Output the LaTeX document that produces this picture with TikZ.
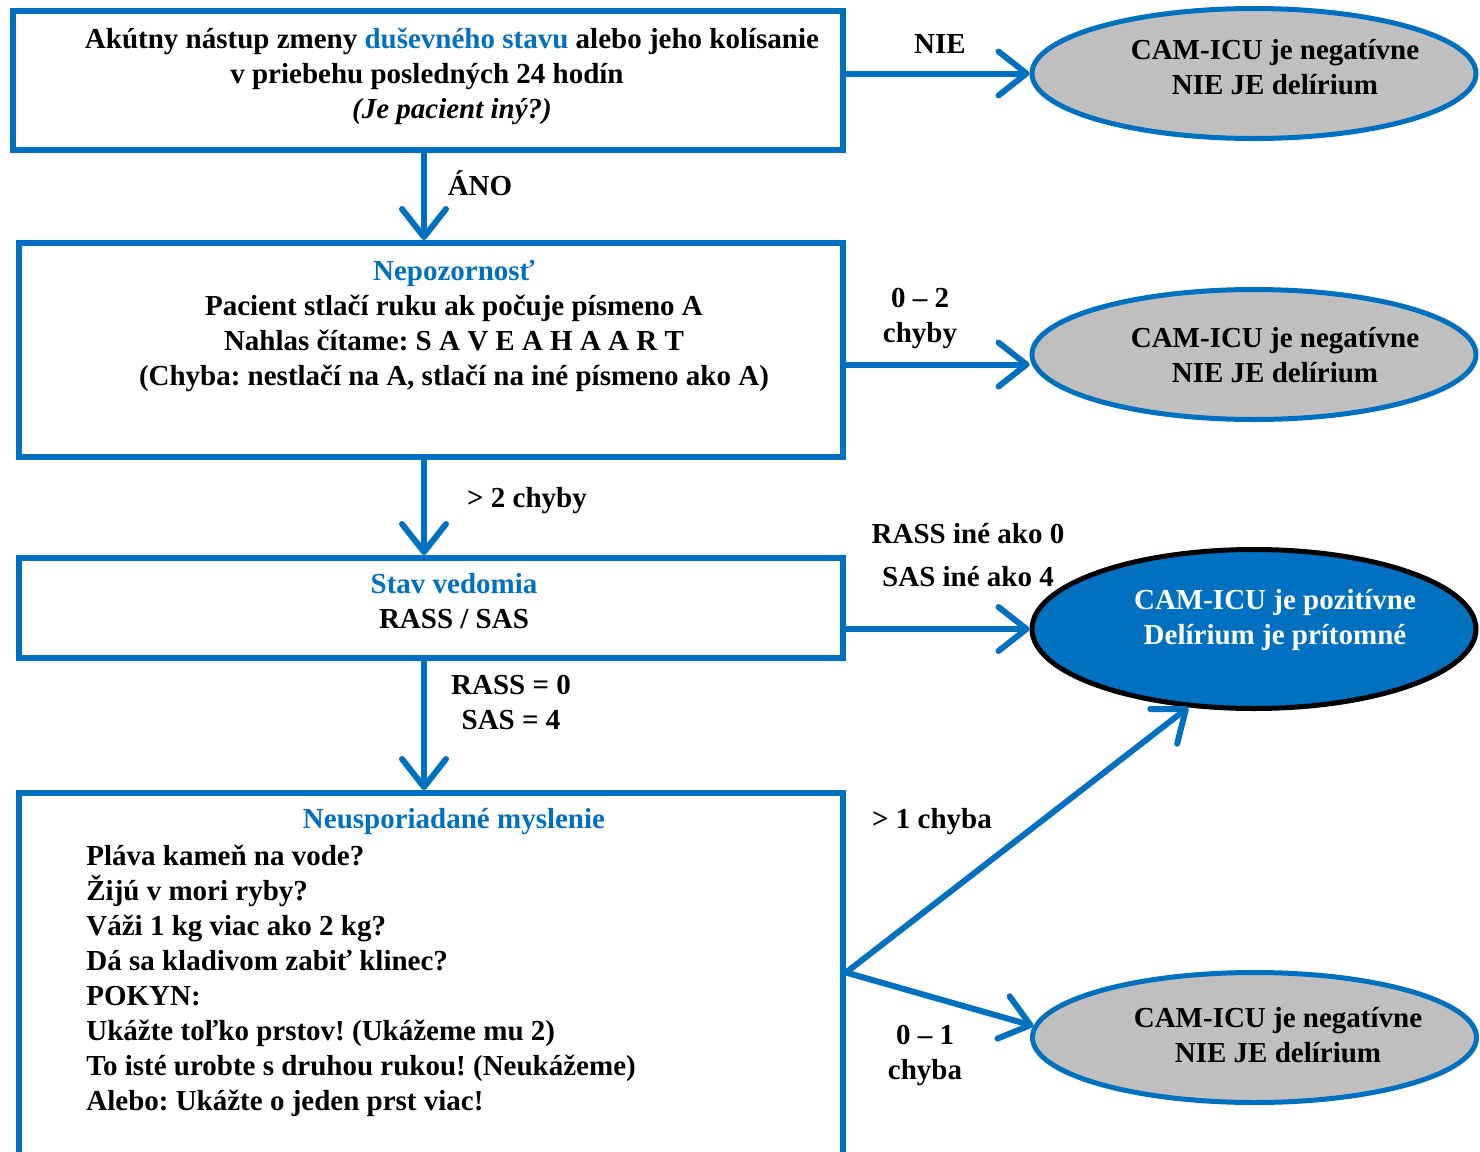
\documentclass[tikz,border=0pt]{standalone}
\usepackage{fontspec}
\setmainfont{Liberation Serif}
\usetikzlibrary{arrows.meta,shapes.geometric,calc}
\definecolor{cblue}{HTML}{0070C0}
\definecolor{cgray}{HTML}{BFBFBF}
\frenchspacing
\begin{document}
\begin{tikzpicture}[x=0.5pt,y=-0.5pt,
  font=\fontsize{14.5}{17.5}\selectfont\bfseries\frenchspacing,
  box/.style={draw=cblue,line width=3pt,rectangle,inner sep=0pt,fill=white},
  negell/.style={ellipse,draw=cblue,line width=2.5pt,fill=cgray,inner sep=0pt,minimum width=222pt,minimum height=65pt},
  posell/.style={ellipse,draw=black,line width=2.5pt,fill=cblue,inner sep=0pt,minimum width=222pt,minimum height=79.5pt},
  conn/.style={draw=cblue,line width=3pt,-{Straight Barb[length=14pt,width=22pt,round]}},
  txt/.style={inner sep=0pt,align=center},
  hd/.style={inner sep=0pt,text=cblue}]
\clip (0,0) rectangle (1480,1152);
% boxes
\node[box,minimum width=415pt,minimum height=69.5pt] (b1) at (428,80.5) {};
\node[box,minimum width=412pt,minimum height=107pt] (b2) at (431,350) {};
\node[box,minimum width=412pt,minimum height=50pt] (b3) at (431,608) {};
\node[box,minimum width=412pt,minimum height=183.5pt] (b4) at (431,976.5) {};
% ellipses
\node[negell] (e1) at (1254,73.5) {};
\node[negell] (e2) at (1254,354.5) {};
\node[posell] (e3) at (1254,629) {};
\node[negell] (e4) at (1254.5,1037.5) {};
% box texts
\node[txt] (t1) at (452,76) {Akútny nástup zmeny \textcolor{cblue}{duševného stavu} alebo jeho kolísanie\\
  v priebehu posledných 24 hodín\kern25pt\hbox{}\\ \textit{(Je pacient iný?)}};
\node[hd] (h2) at (454,273) {Nepozornosť};
\node[txt] (t2) at (454,343) {Pacient stlačí ruku ak počuje písmeno A\\
  Nahlas čítame: S A V E A H A A R T\\
  (Chyba: nestlačí na A, stlačí na iné písmeno ako A)};
\node[hd] (h3) at (454,584) {Stav vedomia};
\node[txt] (t3) at (454,619) {RASS / SAS};
\node[hd] (h4) at (454,822) {Neusporiadané myslenie};
\node[inner sep=0pt,align=left,anchor=west] (t4) at (86,981) {Pláva kameň na vode?\\
  Žijú v mori ryby?\\
  Váži 1 kg viac ako 2 kg?\\
  Dá sa kladivom zabiť klinec?\\
  POKYN:\\
  Ukážte toľko prstov! (Ukážeme mu 2)\\
  To isté urobte s druhou rukou! (Neukážeme)\\
  Alebo: Ukážte o jeden prst viac!};
% ellipse texts
\node[txt] (et1) at (1275,67) {CAM-ICU je negatívne\\NIE JE delírium};
\node[txt] (et2) at (1275,355) {CAM-ICU je negatívne\\NIE JE delírium};
\node[txt,text=white] (et3) at (1275,620) {CAM-ICU je pozitívne\\Delírium je prítomné};
\node[txt] (et4) at (1278,1035) {CAM-ICU je negatívne\\NIE JE delírium};
% connectors
\coordinate (v1) at ($(b1.south)+(-4,0)$);
\coordinate (v2) at ($(b2.north)+(-7,0)$);
\coordinate (v3) at ($(b2.south)+(-7,0)$);
\coordinate (v4) at ($(b3.north)+(-7,0)$);
\coordinate (v5) at ($(b3.south)+(-7,0)$);
\coordinate (v6) at ($(b4.north)+(-7,0)$);
\draw[conn] (v1) -- (v2);
\draw[conn] (v3) -- (v4);
\draw[conn] (v5) -- (v6);
\draw[conn] (e1.west -| b1.east) -- (e1.west);
\coordinate (w2) at ($(e2.west)+(0,10)$);
\draw[conn] (w2 -| b2.east) -- (w2);
\draw[conn] (e3.west -| b3.east) -- (e3.west);
\coordinate (s4) at ($(b4.east)+(0,-4)$);
\draw[conn] (s4) -- (e3.230);
\draw[conn] (s4) -- (e4.177);
% labels
\node[txt] (l1) at (940,44) {NIE};
\node[txt] (l2) at (480,183) {ÁNO};
\node[txt] (l3) at (920,318) {0 – 2\\chyby};
\node[txt] (l4) at (527,501) {> 2 chyby};
\node[txt] (l5) at (968,534) {RASS iné ako 0};
\node[txt] (l6) at (968,577) {SAS iné ako 4};
\node[txt] (l7) at (511,702) {RASS = 0\\SAS = 4};
\node[txt] (l8) at (932,822) {> 1 chyba};
\node[txt] (l9) at (925,1055) {0 – 1\\chyba};
\end{tikzpicture}
\end{document}
